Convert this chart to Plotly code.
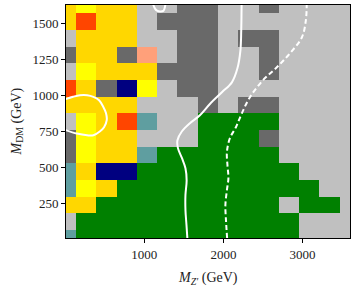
import plotly.graph_objects as go

# ---- data ----
mzp_centers = [10, 266, 523, 779, 1036, 1292, 1549, 1805, 2061, 2318, 2574, 2831, 3087, 3344, 3600]
mdm_centers = [10, 125, 241, 356, 471, 587, 702, 818, 933, 1048, 1164, 1279, 1394, 1510, 1625]

# category codes per cell, rows listed from top (highest M_DM) to bottom
grid_rows_top_down = [
    "GYGGLLDDLLDLLLL",
    "GRGGLDDDLLLLLLL",
    "LGGGLLDDLDDLLLL",
    "DGGDSLDDLLDLLLL",
    "LYGGGDDDLLDLLLL",
    "RGDNYLDDLLLLLLL",
    "GGGGLLLDLDDLLLL",
    "LYGRTLLEEEELLLL",
    "DYGGLLLEEEDLLLL",
    "DYGGTEEEEEELLLL",
    "TGNNEEEEEEEELLL",
    "TYGEEEEEEEEEELL",
    "GGEEEEEEEEELEEL",
    "LEEEEEEEEEEELLL",
    "TEEEEEEEEEEELLL",
]

categories = ["G", "Y", "R", "S", "N", "T", "D", "L", "E"]
category_colors = ["#FFD700", "#FFFF00", "#FF4500", "#FFA07A", "#000080",
                   "#5F9EA0", "#696969", "#C0C0C0", "#008000"]

# solid contour (main)
solid_x = [2230, 2225, 2215, 2177, 2107, 1981, 1829, 1703, 1577, 1476, 1419, 1425,
           1476, 1520, 1535, 1520, 1520, 1533, 1545]
solid_y = [1640, 1449, 1311, 1186, 1089, 1020, 939, 861, 806, 750, 688, 633,
           563, 494, 411, 307, 204, 100, 0]
# solid contour (small loop at left edge)
loop_x = [0, 100, 188, 277, 356, 428, 482, 516, 525, 491, 441, 356, 277, 146, 0]
loop_y = [972, 989, 999, 999, 988, 965, 918, 875, 827, 778, 750, 722, 722, 734, 759]
# solid contour (small dip at top)
dip_x = [1105, 1135, 1160, 1200, 1240, 1255, 1270]
dip_y = [1640, 1600, 1586, 1580, 1584, 1600, 1640]
# dashed contour
dash_x = [3053, 3042, 2991, 2840, 2675, 2499, 2335, 2234, 2158, 2082, 2044, 2051,
          2063, 2044, 2025, 2032, 2048]
dash_y = [1640, 1519, 1400, 1290, 1193, 1103, 986, 876, 778, 702, 605, 515,
          426, 342, 239, 135, 0]

x_ticks = [1000, 2000, 3000]
y_ticks = [250, 500, 750, 1000, 1250, 1500]

# ---- build ----
code_index = {c: i for i, c in enumerate(categories)}
z = [[code_index[ch] for ch in row] for row in reversed(grid_rows_top_down)]

n = len(categories)
colorscale = []
for i, col in enumerate(category_colors):
    colorscale.append([i / n, col])
    colorscale.append([(i + 1) / n, col])

fig = go.Figure()
fig.add_trace(go.Heatmap(
    x=mzp_centers, y=mdm_centers, z=z,
    colorscale=colorscale, zmin=-0.5, zmax=n - 0.5,
    showscale=False, hoverinfo="skip",
))

line_style = dict(color="white", width=2)
for xs, ys in [(solid_x, solid_y), (loop_x, loop_y), (dip_x, dip_y)]:
    fig.add_trace(go.Scatter(x=xs, y=ys, mode="lines", line=dict(line_style, shape="spline"),
                             showlegend=False, hoverinfo="skip"))
fig.add_trace(go.Scatter(x=dash_x, y=dash_y, mode="lines",
                         line=dict(color="white", width=2, dash="5px,3px", shape="spline"),
                         showlegend=False, hoverinfo="skip"))

font_family = "Liberation Serif"
axis_common = dict(showline=True, linecolor="black", linewidth=1, mirror=True,
                   ticks="outside", ticklen=4, tickcolor="black", tickwidth=1,
                   showgrid=False, zeroline=False, automargin=False,
                   tickfont=dict(family=font_family, size=13, color="#222"))

fig.update_xaxes(range=[10, 3600], tickvals=x_ticks, **axis_common)
fig.update_yaxes(range=[10, 1625], tickvals=y_ticks, **axis_common)

fig.update_layout(
    width=357, height=289,
    margin=dict(l=66, r=7, t=5, b=51),
    paper_bgcolor="white", plot_bgcolor="white",
    showlegend=False,
    font=dict(family=font_family, color="#222"),
    annotations=[
        dict(text="<i>M</i><sub><i>Z′</i></sub> (GeV)", xref="paper", yref="paper",
             x=0.5, y=0, yanchor="middle", xanchor="center", yshift=-40,
             showarrow=False, font=dict(family=font_family, size=14, color="#222")),
        dict(text="<i>M</i><sub>DM</sub> (GeV)", xref="paper", yref="paper",
             x=0, y=0.5, xanchor="center", yanchor="middle", xshift=-49,
             textangle=-90, showarrow=False,
             font=dict(family=font_family, size=14, color="#222")),
    ],
)

fig.write_html("out.html", config={"displayModeBar": False},
               post_script="document.body.style.margin='0';")
